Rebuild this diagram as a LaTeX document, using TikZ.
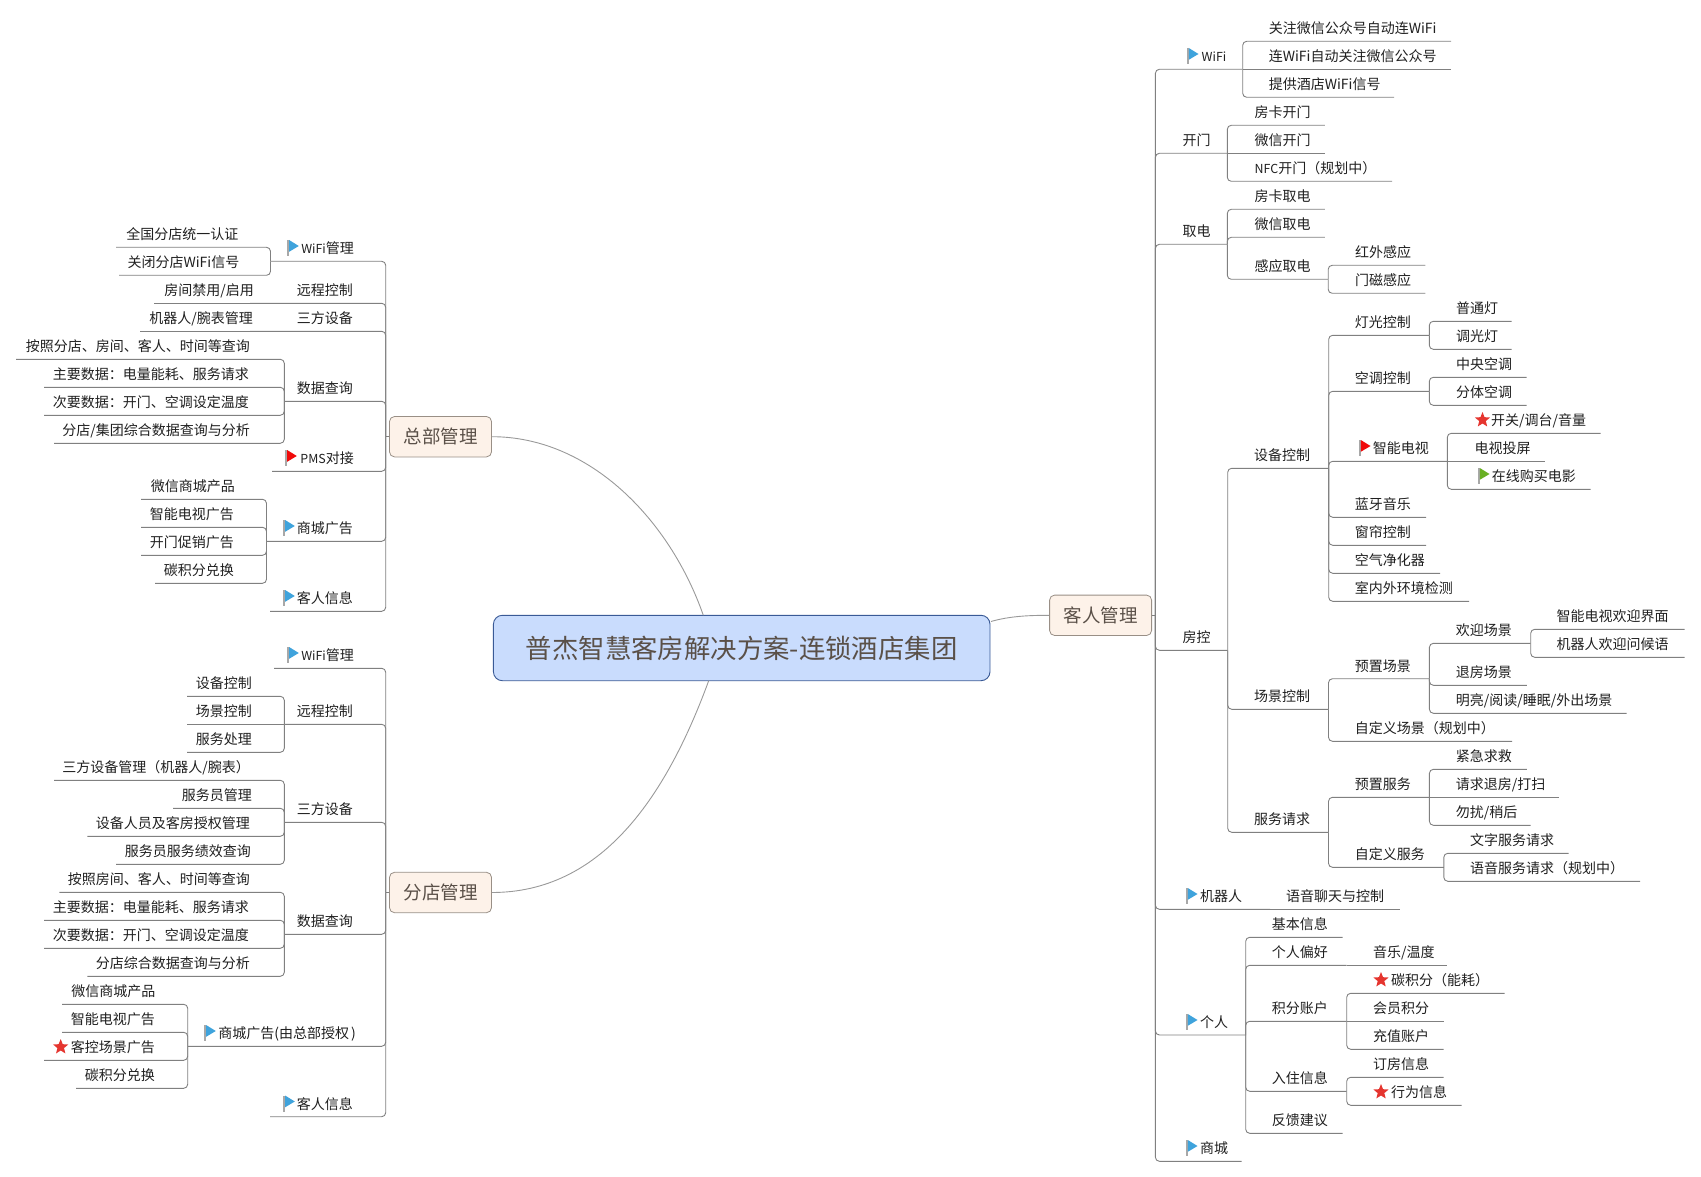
\documentclass[tikz,border=0pt]{standalone}
\usepackage{fontspec}
\setmainfont{Noto Sans CJK SC}
\usetikzlibrary{shapes.geometric}
\definecolor{linec}{HTML}{808080}
\definecolor{curvec}{HTML}{999999}
\definecolor{flagblue}{HTML}{3FA3DC}
\definecolor{flagred}{HTML}{F00A0A}
\definecolor{flaggreen}{HTML}{69B023}
\definecolor{polec}{HTML}{A8A8A8}
\definecolor{starc}{HTML}{E5352F}
\definecolor{boxfill}{HTML}{FDF2E9}
\definecolor{boxline}{HTML}{998F86}
\definecolor{boxtext}{HTML}{5A5048}
\definecolor{titlefill}{HTML}{C9DCFD}
\definecolor{titleline}{HTML}{3A5A96}
\tikzset{
  tree/.style={draw=linec,line width=0.9pt,rounded corners=4pt},
  flat/.style={draw=linec,line width=0.9pt},
  curve/.style={draw=curvec,line width=0.9pt},
  lbl/.style={inner sep=0pt,text height=11.5pt,text depth=2.5pt,text=black!88,font=\fontsize{14}{16}\selectfont},
  branch/.style={draw=boxline,fill=boxfill,line width=0.8pt,rounded corners=5pt,minimum width=102pt,minimum height=40.4pt,inner sep=0pt,text=boxtext,font=\fontsize{18.5}{22}\selectfont},
  central/.style={draw=titleline,fill=titlefill,line width=0.9pt,rounded corners=9pt,minimum width=496.6pt,minimum height=65.4pt,inner sep=0pt,text=boxtext,font=\fontsize{26.4}{30}\selectfont},
  starmark/.style={star,star points=5,star point ratio=2.3,fill=starc,inner sep=0pt,minimum size=16pt}
}
\newcommand{\Lat}[1]{{\fontsize{12.4}{16}\selectfont #1}}
% elbow from the parent's end to this topic's far end, with its label
\newcommand{\Rt}[6]{\coordinate (#1-o) at (#3,#4);
  \draw[tree] (#2-o) |- (#1-o);
  \node[lbl,anchor=west] (#1) at (#5-1,#4-11.9) {#6};}
\newcommand{\Lt}[6]{\coordinate (#1-o) at (#3,#4);
  \draw[tree] (#2-o) |- (#1-o);
  \node[lbl,anchor=east] (#1) at (#5,#4-11.9) {#6};}
% same, for a topic on the parent's own level
\newcommand{\RtF}[6]{\coordinate (#1-o) at (#3,#4);
  \draw[flat] (#2-o) -- (#1-o);
  \node[lbl,anchor=west] (#1) at (#5-1,#4-11.9) {#6};}
\newcommand{\LtF}[6]{\coordinate (#1-o) at (#3,#4);
  \draw[flat] (#2-o) -- (#1-o);
  \node[lbl,anchor=east] (#1) at (#5,#4-11.9) {#6};}
\newcommand{\Flag}[3]{%
  \fill[polec] (#1,#2-8) rectangle (#1+1.6,#2+8);
  \fill[#3] (#1+1.8,#2-8) -- (#1+11.5,#2-2) -- (#1+1.8,#2+3.8) -- cycle;}
\newcommand{\Star}[3]{\node[starmark] (#1) at (#2,#3) {};}
\begin{document}
\begin{tikzpicture}[x=1pt,y=-1pt]
\useasboundingbox (0,0) rectangle (1701,1177);
% central and main branches
\node[central] (title) at (741.7,648) {\raisebox{1pt}{普杰智慧客房解决方案-连锁酒店集团}};
\node[branch] (hq) at (440.5,436.7) {总部管理};
\node[branch] (br) at (440.5,892.5) {分店管理};
\node[branch] (gm) at (1100.6,615.3) {客人管理};
\coordinate (hq-o) at (385.7,436.7);
\coordinate (br-o) at (385.7,892.5);
\coordinate (gm-o) at (1155.4,615.3);
\draw[curve] (hq.east) .. controls (590,436.7) and (670,520) .. (703.3,615.3);
\draw[curve] (br.east) .. controls (600,892.5) and (665,800) .. (708.7,680.7);
\draw[curve] (991,621.5) .. controls (1010,616) and (1030,615.3) .. (gm.west);
\draw[flat] (hq.west) -- (hq-o);
\draw[flat] (br.west) -- (br-o);
\draw[flat] (gm.east) -- (gm-o);
% ---- headquarters ----
\Lt{hw}{hq}{270.5}{261.3}{354}{\Lat{WiFi}管理}\Flag{287.3}{248}{flagblue}
\Lt{hwa}{hw}{116}{247.3}{238.5}{全国分店统一认证}
\Lt{hwb}{hw}{119}{275.3}{239.5}{关闭分店WiFi信号}
\Lt{hr}{hq}{250}{303.3}{353}{远程控制}
\LtF{hra}{hr}{154}{303.3}{254}{房间禁用/启用}
\Lt{ht}{hq}{250}{331.3}{353}{三方设备}
\LtF{hta}{ht}{140}{331.3}{253}{机器人/腕表管理}
\Lt{hd}{hq}{284.3}{401.3}{353}{数据查询}
\Lt{hda}{hd}{16}{359.3}{250}{按照分店、房间、客人、时间等查询}
\Lt{hdb}{hd}{44}{387.3}{249}{主要数据：电量能耗、服务请求}
\Lt{hdc}{hd}{44}{415.3}{249}{次要数据：开门、空调设定温度}
\Lt{hdd}{hd}{54}{443.3}{250}{分店/集团综合数据查询与分析}
\Lt{hp}{hq}{272}{471.3}{354}{\Lat{PMS}对接}\Flag{285.3}{458}{flagred}
\Lt{hs}{hq}{266.5}{541.3}{353}{商城广告}\Flag{283.3}{528}{flagblue}
\Lt{hsa}{hs}{141}{499.3}{235}{微信商城产品}
\Lt{hsb}{hs}{141}{527.3}{234}{智能电视广告}
\Lt{hsc}{hs}{141}{555.3}{234}{开门促销广告}
\Lt{hsd}{hs}{155}{583.3}{234}{碳积分兑换}
\Lt{hg}{hq}{270}{611.3}{353}{客人信息}\Flag{283.3}{598}{flagblue}
% ---- branch ----
\Lt{bw}{br}{274}{668.3}{354}{\Lat{WiFi}管理}\Flag{287.3}{655}{flagblue}
\Lt{brc}{br}{284.3}{724.3}{353}{远程控制}
\Lt{brca}{brc}{187}{696.3}{252}{设备控制}
\LtF{brcb}{brc}{187}{724.3}{252}{场景控制}
\Lt{brcc}{brc}{187}{752.3}{252}{服务处理}
\Lt{bt}{br}{284.3}{822.3}{353}{三方设备}
\Lt{bta}{bt}{54}{780.3}{250}{三方设备管理（机器人/腕表）}
\Lt{btb}{bt}{173}{808.3}{252}{服务员管理}
\Lt{btc}{bt}{87.3}{836.3}{250}{设备人员及客房授权管理}
\Lt{btd}{bt}{116}{864.3}{251}{服务员服务绩效查询}
\Lt{bd}{br}{284.3}{934.3}{353}{数据查询}
\Lt{bda}{bd}{59.3}{892.3}{250}{按照房间、客人、时间等查询}
\Lt{bdb}{bd}{44}{920.3}{249}{主要数据：电量能耗、服务请求}
\Lt{bdc}{bd}{44}{948.3}{249}{次要数据：开门、空调设定温度}
\Lt{bdd}{bd}{87.3}{976.3}{250}{分店综合数据查询与分析}
\Lt{bs}{br}{187.7}{1046.3}{356}{商城广告(由总部授权\kern2pt)}\Flag{204.3}{1033}{flagblue}
\Lt{bsa}{bs}{62}{1004.3}{155.5}{微信商城产品}
\Lt{bsb}{bs}{62}{1032.3}{155}{智能电视广告}
\Lt{bsc}{bs}{44}{1060.3}{155}{客控场景广告}\Star{bsc-star}{60.7}{1047}
\Lt{bsd}{bs}{76}{1088.3}{155}{碳积分兑换}
\Lt{bg}{br}{270}{1116.7}{353}{客人信息}\Flag{283.3}{1103.5}{flagblue}
% ---- guests ----
\Rt{gw}{gm}{1242.7}{69.3}{1202.5}{\Lat{WiFi}}\Flag{1187}{56}{flagblue}
\Rt{gwa}{gw}{1451}{41.3}{1269.6}{关注微信公众号自动连WiFi}
\RtF{gwb}{gw}{1451}{69.3}{1269.6}{连WiFi自动关注微信公众号}
\Rt{gwc}{gw}{1394}{97.3}{1269.6}{提供酒店WiFi信号}
\Rt{go}{gm}{1227.3}{153.3}{1183.5}{开门}
\Rt{goa}{go}{1324.8}{125.3}{1255.5}{房卡开门}
\RtF{gob}{go}{1324.8}{153.3}{1255.5}{微信开门}
\Rt{goc}{go}{1392}{181.3}{1255.5}{\Lat{NFC}开门（规划中）}
\Rt{gp}{gm}{1227.3}{244.3}{1183.5}{取电}
\Rt{gpa}{gp}{1324.8}{209.3}{1255.5}{房卡取电}
\Rt{gpb}{gp}{1324.8}{237.3}{1255.5}{微信取电}
\Rt{gpc}{gp}{1328.2}{279.3}{1255.5}{感应取电}
\Rt{gpca}{gpc}{1425.4}{265.3}{1356}{红外感应}
\Rt{gpcb}{gpc}{1425.4}{293.3}{1356}{门磁感应}
\Rt{gr}{gm}{1227.7}{650.3}{1183.5}{房控}
\Rt{gd}{gr}{1328.7}{468.3}{1255}{设备控制}
\Rt{gda}{gd}{1429.3}{335.3}{1355.7}{灯光控制}
\Rt{gdaa}{gda}{1511.7}{321.3}{1457}{普通灯}
\Rt{gdab}{gda}{1511.7}{349.3}{1457}{调光灯}
\Rt{gdb}{gd}{1429.3}{391.3}{1355.7}{空调控制}
\Rt{gdba}{gdb}{1526.7}{377.3}{1457}{中央空调}
\Rt{gdbb}{gdb}{1526.7}{405.3}{1457}{分体空调}
\Rt{gdc}{gd}{1447.3}{461.3}{1373.7}{智能电视}\Flag{1359}{448}{flagred}
\Rt{gdca}{gdc}{1600.7}{433.3}{1492}{开关/调台/音量}\Star{gdca-star}{1482.5}{420}
\RtF{gdcb}{gdc}{1545}{461.3}{1475.3}{电视投屏}
\Rt{gdcc}{gdc}{1590.7}{489.3}{1492.7}{在线购买电影}\Flag{1478}{476}{flaggreen}
\Rt{gdd}{gd}{1426}{517.3}{1355.7}{蓝牙音乐}
\Rt{gde}{gd}{1426}{545.3}{1355.7}{窗帘控制}
\Rt{gdf}{gd}{1440}{573.3}{1355.7}{空气净化器}
\Rt{gdg}{gd}{1469}{601.3}{1355.7}{室内外环境检测}
\Rt{gs}{gr}{1328.5}{709.3}{1255}{场景控制}
\Rt{gsa}{gs}{1429.4}{678.7}{1355.7}{预置场景}
\Rt{gsaa}{gsa}{1530.7}{643.3}{1456.6}{欢迎场景}
\Rt{gsaaa}{gsaa}{1684.5}{629.3}{1557.5}{智能电视欢迎界面}
\Rt{gsaab}{gsaa}{1684.5}{657.3}{1557.5}{机器人欢迎问候语}
\Rt{gsab}{gsa}{1526.8}{685.3}{1456.6}{退房场景}
\Rt{gsac}{gsa}{1626.6}{713.3}{1456.6}{明亮/阅读/睡眠/外出场景}
\Rt{gsb}{gs}{1512}{741.3}{1355.7}{自定义场景（规划中）}
\Rt{gv}{gr}{1328.5}{832.3}{1255}{服务请求}
\Rt{gva}{gv}{1429.4}{797.3}{1355.7}{预置服务}
\Rt{gvaa}{gva}{1526.8}{769.3}{1456.6}{紧急求救}
\RtF{gvab}{gva}{1559.3}{797.3}{1456.6}{请求退房/打扫}
\Rt{gvac}{gva}{1530.7}{825.3}{1456.6}{勿扰/稍后}
\Rt{gvb}{gv}{1443.8}{867.3}{1355.7}{自定义服务}
\Rt{gvba}{gvb}{1568.6}{853.3}{1471}{文字服务请求}
\Rt{gvbb}{gvb}{1640.2}{881.3}{1471}{语音服务请求（规划中）}
\Rt{gb}{gm}{1270}{909.3}{1201}{机器人}\Flag{1186}{896}{flagblue}
\RtF{gba}{gb}{1399.7}{909.3}{1287}{语音聊天与控制}
\Rt{gi}{gm}{1245.7}{1035}{1201}{个人}\Flag{1186}{1022}{flagblue}
\Rt{gia}{gi}{1342.7}{937.3}{1272.7}{基本信息}
\Rt{gib}{gi}{1346.7}{965.3}{1272.7}{个人偏好}
\RtF{giba}{gib}{1447.3}{965.3}{1374}{音乐/温度}
\Rt{gic}{gi}{1346.7}{1021.3}{1272.7}{积分账户}
\Rt{gica}{gic}{1504.7}{993.3}{1392}{碳积分（能耗）}\Star{gica-star}{1381}{980}
\RtF{gicb}{gic}{1443.7}{1021.3}{1374}{会员积分}
\Rt{gicc}{gic}{1443.7}{1049.3}{1374}{充值账户}
\Rt{gid}{gi}{1346.7}{1091.3}{1272.7}{入住信息}
\Rt{gida}{gid}{1443.7}{1077.3}{1374}{订房信息}
\Rt{gidb}{gid}{1461.7}{1105.3}{1392}{行为信息}\Star{gidb-star}{1381}{1092}
\Rt{gie}{gi}{1342.7}{1133.3}{1272.7}{反馈建议}
\Rt{gmall}{gm}{1241.7}{1161.3}{1201}{商城}\Flag{1186}{1148}{flagblue}
\end{tikzpicture}
\end{document}
